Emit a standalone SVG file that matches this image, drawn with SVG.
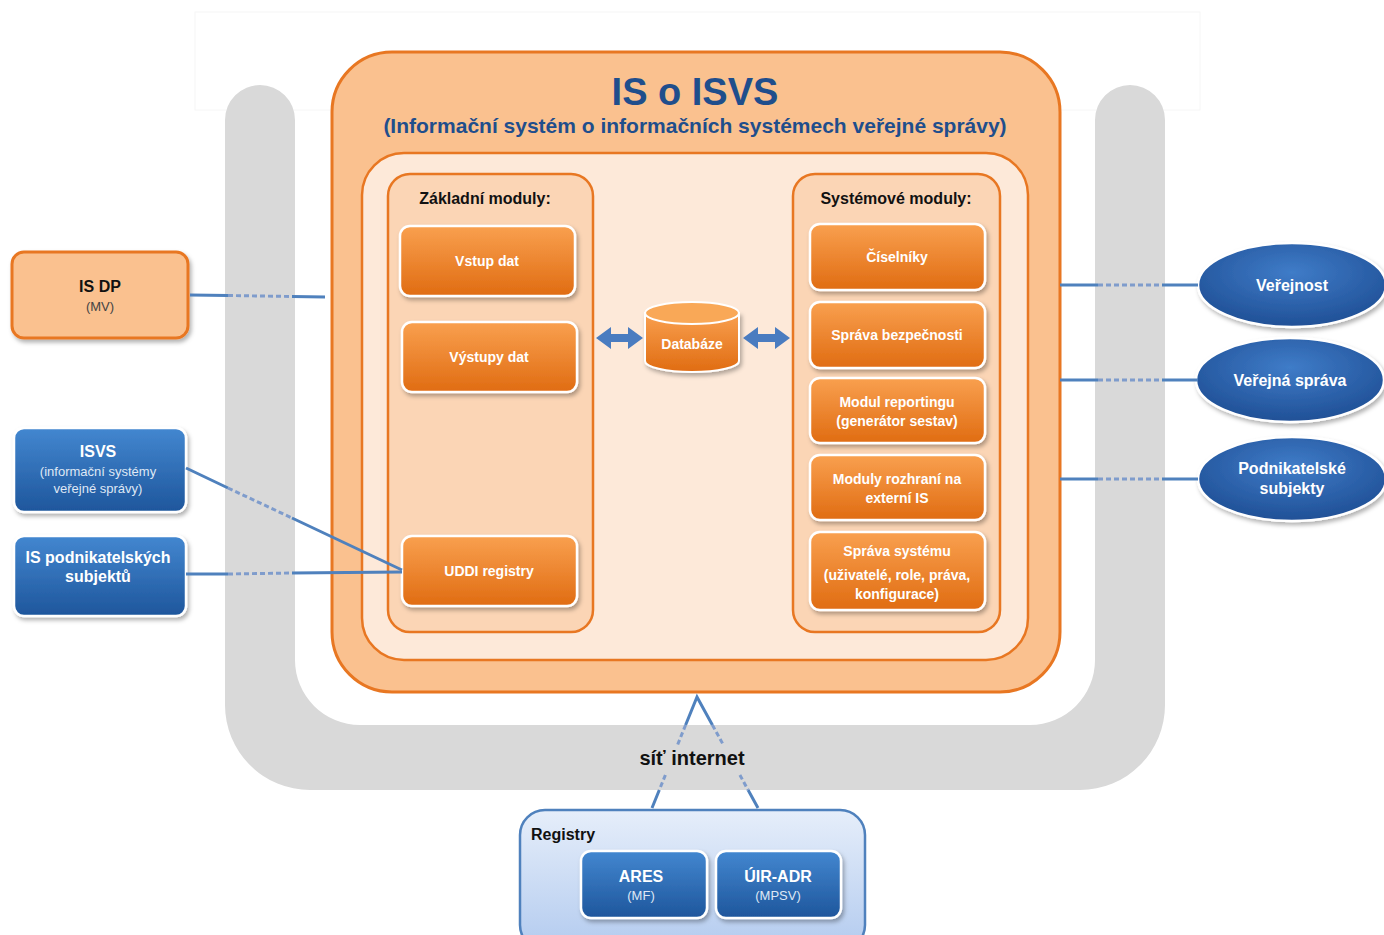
<svg xmlns="http://www.w3.org/2000/svg" width="1384" height="935" viewBox="0 0 1384 935">
<defs>
<linearGradient id="gOr" x1="0" y1="0" x2="0" y2="1"><stop offset="0" stop-color="#f9a04f"/><stop offset="1" stop-color="#e06c12"/></linearGradient>
<linearGradient id="gBl" x1="0" y1="0" x2="0" y2="1"><stop offset="0" stop-color="#4387d0"/><stop offset="1" stop-color="#1e569c"/></linearGradient>
<radialGradient id="gEl" cx="0.5" cy="0.35" r="0.7"><stop offset="0" stop-color="#3f7cc8"/><stop offset="1" stop-color="#1d4c92"/></radialGradient>
<linearGradient id="gReg" x1="0" y1="0" x2="0" y2="1"><stop offset="0" stop-color="#e6eefa"/><stop offset="1" stop-color="#b3cbef"/></linearGradient>
<filter id="sh" x="-10%" y="-10%" width="125%" height="130%"><feDropShadow dx="2" dy="3" stdDeviation="2" flood-color="#000" flood-opacity="0.3"/></filter>
</defs>
<style>
text{font-family:"Liberation Sans",Arial,sans-serif;}
.btn{fill:url(#gOr);stroke:#fff;stroke-width:2.5;filter:url(#sh);}
.bt{fill:#fff;font-weight:bold;font-size:14px;text-anchor:middle;}
.bn{fill:url(#gBl);stroke:#fff;stroke-width:2.5;filter:url(#sh);}
.hd{fill:#111;font-weight:bold;font-size:16px;text-anchor:middle;}
.wt{fill:#fff;font-weight:bold;font-size:16px;text-anchor:middle;}
.sm{fill:#dfe8f5;font-size:13px;text-anchor:middle;}
.ln{stroke:#4f81bd;stroke-width:3;fill:none;}
.dl{stroke:#7f9ccc;stroke-width:3;fill:none;stroke-dasharray:5 3;}
</style>
<rect x="195" y="12" width="1005" height="98" fill="#fff" stroke="#f6f6f6" stroke-width="1"/>
<path d="M225,120 A35,35 0 0 1 295,120 L295,660 A65,65 0 0 0 360,725 L1030,725 A65,65 0 0 0 1095,660 L1095,120 A35,35 0 0 1 1165,120 L1165,705 A85,85 0 0 1 1080,790 L310,790 A85,85 0 0 1 225,705 Z" fill="#d9d9d9"/>
<g id="isvs-main">
<rect x="332" y="52" width="728" height="640" rx="60" fill="#fac18f" stroke="#e87722" stroke-width="3"/>
<text x="695" y="105" fill="#1f4e8c" font-weight="bold" font-size="38" text-anchor="middle">IS o ISVS</text>
<text x="695" y="133" fill="#1f4e8c" font-weight="bold" font-size="21" text-anchor="middle">(Informační systém o informačních systémech veřejné správy)</text>
<rect x="362" y="153" width="666" height="507" rx="42" fill="#fde9d9" stroke="#e87722" stroke-width="2.5"/>
</g>
<g id="zakladni">
<rect x="388" y="174" width="205" height="458" rx="22" fill="#fbd5b5" stroke="#e87722" stroke-width="2.5"/>
<text class="hd" x="485" y="204">Základní moduly:</text>
</g>
<g id="systemove">
<rect x="793" y="174" width="207" height="458" rx="22" fill="#fbd5b5" stroke="#e87722" stroke-width="2.5"/>
<text class="hd" x="896" y="204">Systémové moduly:</text>
</g>
<g id="vstup"><rect class="btn" x="400" y="226" width="175" height="70" rx="10"/><text class="bt" x="487" y="266">Vstup dat</text></g>
<g id="vystupy"><rect class="btn" x="402" y="322" width="175" height="70" rx="10"/><text class="bt" x="489" y="362">Výstupy dat</text></g>
<g id="uddi"><rect class="btn" x="402" y="536" width="175" height="70" rx="10"/><text class="bt" x="489" y="576">UDDI registry</text></g>
<g id="ciselniky"><rect class="btn" x="810" y="224" width="175" height="66" rx="10"/><text class="bt" x="897" y="262">Číselníky</text></g>
<g id="bezpecnost"><rect class="btn" x="810" y="302" width="175" height="66" rx="10"/><text class="bt" x="897" y="340">Správa bezpečnosti</text></g>
<g id="reporting"><rect class="btn" x="810" y="378" width="175" height="65" rx="10"/><text class="bt" x="897" y="407">Modul reportingu</text><text class="bt" x="897" y="426">(generátor sestav)</text></g>
<g id="rozhrani"><rect class="btn" x="810" y="455" width="175" height="65" rx="10"/><text class="bt" x="897" y="484">Moduly rozhraní  na</text><text class="bt" x="897" y="503">externí IS</text></g>
<g id="sprava-systemu"><rect class="btn" x="810" y="532" width="175" height="78" rx="10"/><text class="bt" x="897" y="556">Správa systému</text><text class="bt" x="897" y="580">(uživatelé, role, práva,</text><text class="bt" x="897" y="599">konfigurace)</text></g>
<g id="databaze">
<path d="M645,313 L645,361 A47,11 0 0 0 739,361 L739,313 Z" fill="url(#gOr)" stroke="#fff" stroke-width="2" filter="url(#sh)"/>
<ellipse cx="692" cy="313" rx="47" ry="11" fill="#f9a857" stroke="#fff" stroke-width="2"/>
<text class="bt" x="692" y="349" font-size="15">Databáze</text>
</g>
<g id="isdp"><rect x="12" y="252" width="176" height="86" rx="12" fill="#fac18f" stroke="#e87722" stroke-width="3" filter="url(#sh)"/><text class="hd" x="100" y="292">IS DP</text><text x="100" y="311" fill="#444" font-size="13" text-anchor="middle">(MV)</text></g>
<g id="isvs"><rect class="bn" x="14" y="428" width="172" height="84" rx="10"/><text class="wt" x="98" y="457">ISVS</text><text class="sm" x="98" y="476">(informační systémy</text><text class="sm" x="98" y="493">veřejné správy)</text></g>
<g id="ispod"><rect class="bn" x="14" y="536" width="172" height="80" rx="10"/><text class="wt" x="98" y="563">IS podnikatelských</text><text class="wt" x="98" y="582">subjektů</text></g>
<g id="verejnost"><ellipse cx="1292" cy="285" rx="94" ry="42" fill="url(#gEl)" stroke="#fff" stroke-width="2.5" filter="url(#sh)"/><text class="wt" x="1292" y="291">Veřejnost</text></g>
<g id="verejna-sprava"><ellipse cx="1290" cy="380" rx="94" ry="42" fill="url(#gEl)" stroke="#fff" stroke-width="2.5" filter="url(#sh)"/><text class="wt" x="1290" y="386">Veřejná správa</text></g>
<g id="podnikatelske"><ellipse cx="1292" cy="479" rx="94" ry="42" fill="url(#gEl)" stroke="#fff" stroke-width="2.5" filter="url(#sh)"/><text class="wt" x="1292" y="474">Podnikatelské</text><text class="wt" x="1292" y="494">subjekty</text></g>
<g id="registry">
<rect x="520" y="810" width="345" height="140" rx="25" fill="url(#gReg)" stroke="#4f81bd" stroke-width="2.5"/>
<text x="531" y="840" fill="#111" font-weight="bold" font-size="16">Registry</text>
<rect class="bn" x="581" y="851" width="126" height="67" rx="10"/><text class="wt" x="641" y="882">ARES</text><text class="sm" x="641" y="900">(MF)</text>
<rect class="bn" x="716" y="851" width="125" height="67" rx="10"/><text class="wt" x="778" y="882">ÚIR-ADR</text><text class="sm" x="778" y="900">(MPSV)</text>
</g>
<g id="connectors">
<path class="ln" d="M190,295 L228,295.5 M292,296.5 L325,297"/><path class="dl" d="M228,295.5 L292,296.5"/>
<path class="ln" d="M186,468 L228,488 M292,518 L402,570"/><path class="dl" d="M228,488 L292,518"/>
<path class="ln" d="M186,574 L228,574 M292,573 L402,572"/><path class="dl" d="M228,574 L292,573"/>
<path class="ln" d="M1060,285 L1098,285 M1162,285 L1198,285"/><path class="dl" d="M1098,285 L1162,285"/>
<path class="ln" d="M1060,380 L1098,380 M1162,380 L1198,380"/><path class="dl" d="M1098,380 L1162,380"/>
<path class="ln" d="M1060,479 L1098,479 M1162,479 L1198,479"/><path class="dl" d="M1098,479 L1162,479"/>
<path class="ln" d="M685.6,725 L697,697 L712.4,725 M659.3,790 L652,808 M748.1,790 L758,808"/>
<path class="dl" d="M685.6,725 L677.5,745 M665.4,775 L659.3,790 M712.4,725 L723.4,745 M739.9,775 L748.1,790"/>
<polygon points="596,338 611,327 611,334 628,334 628,327 643,338 628,349 628,342 611,342 611,349" fill="#4a7cc0"/>
<polygon points="743,338 758,327 758,334 775,334 775,327 790,338 775,349 775,342 758,342 758,349" fill="#4a7cc0"/>
</g>
<text x="692" y="765" fill="#111" font-weight="bold" font-size="20" text-anchor="middle">síť internet</text>
</svg>
